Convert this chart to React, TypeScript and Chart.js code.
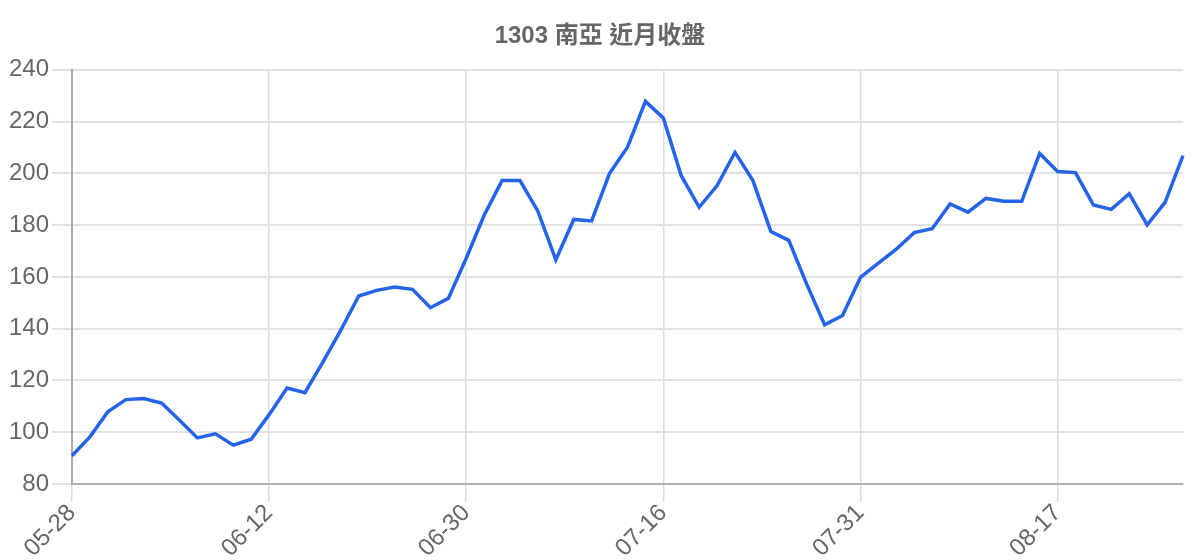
import React, { useEffect, useRef } from "react";
import { Chart, registerables } from "chart.js";

Chart.register(...registerables);

const TITLE = "1303 南亞 近月收盤";

const dateLabels: string[] = [
  "05-28", "05-29", "06-01", "06-02", "06-03", "06-04", "06-05", "06-08", "06-09", "06-10", "06-11",
  "06-12", "06-15", "06-16", "06-17", "06-18", "06-19", "06-22", "06-23", "06-24", "06-26", "06-29",
  "06-30", "07-01", "07-02", "07-03", "07-06", "07-07", "07-08", "07-09", "07-10", "07-13", "07-14",
  "07-16", "07-17", "07-20", "07-21", "07-22", "07-23", "07-24", "07-27", "07-28", "07-29", "07-30",
  "07-31", "08-03", "08-04", "08-05", "08-06", "08-07", "08-10", "08-11", "08-12", "08-13", "08-14",
  "08-17", "08-18", "08-19", "08-20", "08-21", "08-24", "08-25", "08-26",
];

const closePrices: number[] = [
  90.9, 98.2, 107.9, 112.6, 113.0, 111.3, 104.6, 97.8, 99.4, 95.0, 97.3,
  106.8, 117.1, 115.3, 127.1, 139.4, 152.6, 154.8, 156.1, 155.2, 148.1, 151.7,
  167.2, 183.8, 197.2, 197.2, 185.4, 166.6, 182.2, 181.6, 200.0, 210.1, 227.8,
  221.4, 199.1, 186.9, 195.3, 208.1, 197.2, 177.5, 174.1, 157.2, 141.5, 145.1,
  159.8, 165.3, 170.7, 177.1, 178.6, 188.2, 185.0, 190.3, 189.2, 189.2, 207.7,
  200.7, 200.3, 187.8, 186.1, 192.1, 180.1, 188.8, 206.8,
];

const yMin = 80;
const yMax = 240;
const yStep = 20;
const labelEvery = 11;

const FONT = "Arial, 'Liberation Sans', 'Noto Sans CJK TC', sans-serif";

const centerTitlePlugin = {
  id: "centerTitle",
  afterLayout(chart: any) {
    const tb = chart.titleBlock;
    if (tb) {
      tb.left = 0;
      tb.right = chart.width;
      tb.width = chart.width;
    }
  },
};

export default function App() {
  const canvasRef = useRef<HTMLCanvasElement | null>(null);

  useEffect(() => {
    const canvas = canvasRef.current;
    if (!canvas) return;
    const chart = new Chart(canvas, {
      type: "line",
      data: {
        labels: dateLabels,
        datasets: [
          {
            label: TITLE,
            data: closePrices,
            borderColor: "#2563eb",
            backgroundColor: "#2563eb",
            borderWidth: 3.5,
            pointRadius: 0,
            tension: 0,
            fill: false,
          },
        ],
      },
      plugins: [centerTitlePlugin],
      options: {
        animation: false,
        responsive: true,
        maintainAspectRatio: false,
        layout: { padding: { left: 9, right: 17, top: 0, bottom: 0 } },
        plugins: {
          legend: { display: false },
          tooltip: { enabled: false },
          title: {
            display: true,
            text: TITLE,
            color: "#666",
            font: { family: FONT, size: 24, weight: "bold" },
            padding: { top: 22, bottom: 19 },
          },
        },
        scales: {
          x: {
            border: { color: "#b0b0b0", width: 2 },
            grid: {
              color: "#dcdcdc",
              lineWidth: 1.5,
              tickLength: 18,
            },
            afterFit: (scale: any) => {
              scale.height = 76;
            },
            ticks: {
              autoSkip: false,
              maxRotation: 45,
              minRotation: 45,
              color: "#666",
              font: { family: FONT, size: 24 },
              padding: -3,
              callback: function (this: any, _value: any, index: number) {
                return index % labelEvery === 0 ? dateLabels[index] : null;
              },
            },
          },
          y: {
            min: yMin,
            max: yMax,
            border: { color: "#aaaaaa", width: 2 },
            grid: {
              color: "#e2e2e2",
              lineWidth: 2,
              tickLength: 20,
            },
            afterFit: (scale: any) => {
              scale.width = 63;
            },
            ticks: {
              stepSize: yStep,
              color: "#666",
              font: { family: FONT, size: 24 },
              padding: 3,
            },
          },
        },
      },
    });
    return () => chart.destroy();
  }, []);

  return (
    <div style={{ position: "absolute", left: 0, top: 0, width: 1200, height: 560, background: "#fff" }}>
      <canvas ref={canvasRef} />
    </div>
  );
}
